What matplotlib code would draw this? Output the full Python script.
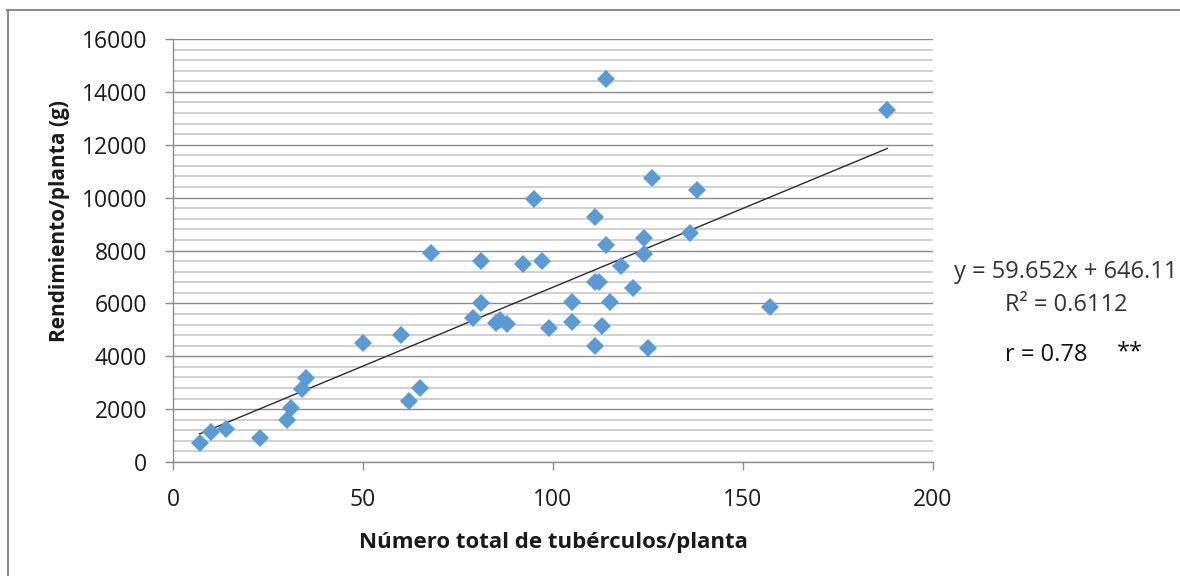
import matplotlib
matplotlib.use("Agg")
import matplotlib.pyplot as plt
from matplotlib.ticker import MultipleLocator
from matplotlib.lines import Line2D
import numpy as np

# Tubérculos por planta vs rendimiento por planta
tuberculos = [7, 10, 14, 23, 30, 31, 34, 35, 50, 60, 62, 65, 68, 79, 81, 81,
              85, 86, 88, 92, 95, 97, 99, 105, 105, 111, 112, 111, 111, 113,
              114, 114, 115, 118, 121, 124, 124, 125, 126, 136, 138, 157, 188]
rendimiento = [720, 1140, 1250, 910, 1580, 2030, 2750, 3190, 4510, 4800, 2310,
               2810, 7900, 5440, 6020, 7610, 5270, 5370, 5220, 7480, 9950, 7620,
               5060, 6060, 5300, 6790, 6790, 4400, 9270, 5130, 8200, 14470, 6060,
               7420, 6600, 7880, 8490, 4300, 10730, 8660, 10300, 5870, 13300]

pendiente = 59.652
intercepto = 646.11
r2 = 0.6112
r = 0.78

plt.rcParams["font.family"] = ["Open Sans", "DejaVu Sans"]

fig = plt.figure(figsize=(11.8, 5.76), dpi=100)
ax = fig.add_axes([173 / 1180, 1 - 462 / 576, 760 / 1180, 423 / 576])

ax.plot(tuberculos, rendimiento, linestyle="none", marker="D", ms=9,
        color="#5B9BD5", markeredgewidth=0, zorder=3)

xt = np.array([min(tuberculos), max(tuberculos)])
ax.plot(xt, pendiente * xt + intercepto, color="#2b2b2b", lw=1.0, zorder=2)

ax.set_xlim(0, 200)
ax.set_ylim(0, 16000)
ax.xaxis.set_major_locator(MultipleLocator(50))
ax.yaxis.set_major_locator(MultipleLocator(2000))
ax.yaxis.set_minor_locator(MultipleLocator(400))

ax.grid(which="major", axis="y", color="#8c8c8c", lw=1.0)
ax.grid(which="minor", axis="y", color="#c8c8c8", lw=1.2)
ax.set_axisbelow(True)

for side in ("top", "right"):
    ax.spines[side].set_visible(False)
for side in ("left", "bottom"):
    ax.spines[side].set_color("#8c8c8c")
    ax.spines[side].set_linewidth(1.0)

ax.tick_params(which="major", direction="out", length=5.5, width=1.0,
               color="#8c8c8c", labelsize=16.5, labelcolor="#1a1a1a")
ax.tick_params(axis="y", which="major", pad=13)
ax.tick_params(axis="x", which="major", pad=13)
ax.tick_params(which="minor", length=0)

ax.set_xlabel("Número total de tubérculos/planta", fontsize=16,
              fontweight="bold", color="#1a1a1a")
ax.set_ylabel("Rendimiento/planta (g)", fontsize=15, fontweight="bold",
              color="#1a1a1a")
ax.xaxis.set_label_coords(0.5, -0.165)
ax.yaxis.set_label_coords(-0.135, 0.57)

fig.text(1066 / 1180, 1 - 271.5 / 576, f"y = {pendiente}x + {intercepto}",
         ha="center", va="center", fontsize=17, color="#333333")
fig.text(1066 / 1180, 1 - 305 / 576, f"R² = {r2}",
         ha="center", va="center", fontsize=17, color="#333333")
fig.text(1005 / 1180, 1 - 355 / 576, f"r = {r}", ha="left", va="center",
         fontsize=17, color="#111111")
fig.text(1117 / 1180, 1 - 352 / 576, "**", ha="left", va="center",
         fontsize=17, color="#111111")

# marco exterior del gráfico
fig.add_artist(Line2D([7 / 1180, 1], [1 - 9.5 / 576] * 2,
                      transform=fig.transFigure, color="#8c8c8c", lw=1.5))
fig.add_artist(Line2D([7.5 / 1180] * 2, [0, 1 - 9.5 / 576],
                      transform=fig.transFigure, color="#8c8c8c", lw=1.5))

fig.savefig("out.png", dpi=100)
